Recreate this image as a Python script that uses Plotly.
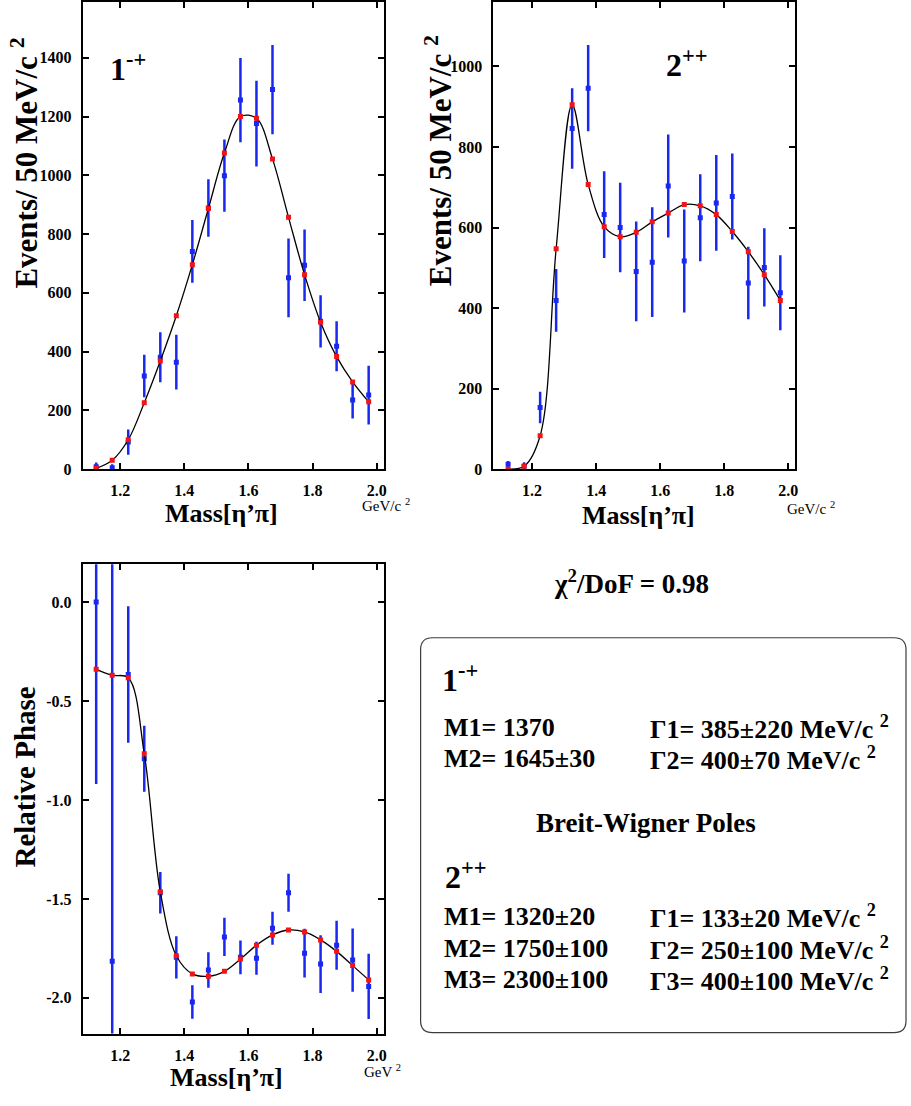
import plotly.graph_objects as go

W, H = 911, 1106

# ---------------- data ----------------
mass = [1.125, 1.175, 1.225, 1.275, 1.325, 1.375, 1.425, 1.475, 1.525,
        1.575, 1.625, 1.675, 1.725, 1.775, 1.825, 1.875, 1.925, 1.975]

# 1^-+ intensity
ex_data = [8, 5, 92, 317, 381, 364, 741, 889, 999, 1256, 1176, 1292, 651, 694, 503, 418, 235, 252]
ex_err = [15, 12, 43, 72, 85, 93, 107, 98, 123, 143, 146, 152, 134, 122, 89, 85, 63, 100]
ex_fit = [3, 30, 100, 226, 368, 522, 696, 887, 1076, 1200, 1194, 1056, 857, 662, 500, 383, 297, 229]

# 2^++ intensity
t_data = [12, 7, 153, 419, 846, 946, 632, 600, 491, 514, 703, 517, 624, 661, 677, 462, 501, 438]
t_err = [8, 10, 39, 78, 100, 107, 108, 111, 124, 136, 128, 128, 108, 119, 107, 90, 97, 93]
t_fit = [0, 7, 83, 547, 905, 707, 602, 577, 588, 614, 636, 657, 654, 632, 590, 540, 483, 419]

# relative phase
ph_data = [0.0, -1.815, -0.366, -0.792, -1.469, -1.795, -2.021, -1.859, -1.692,
           -1.795, -1.80, -1.648, -1.469, -1.774, -1.829, -1.734, -1.809, -1.942]
ph_err = [0.92, 2.2, 0.345, 0.167, 0.105, 0.107, 0.085, 0.09, 0.097,
          0.085, 0.083, 0.083, 0.096, 0.123, 0.146, 0.124, 0.16, 0.165]
ph_fit = [-0.34, -0.37, -0.383, -0.767, -1.464, -1.787, -1.879, -1.891, -1.866,
          -1.804, -1.734, -1.682, -1.657, -1.667, -1.707, -1.765, -1.837, -1.909]

x_tickvals = [1.2, 1.4, 1.6, 1.8, 2.0]
x_ticktext = ["1.2", "1.4", "1.6", "1.8", "2.0"]
ex_tickvals = [0, 200, 400, 600, 800, 1000, 1200, 1400]
t_tickvals = [0, 200, 400, 600, 800, 1000]
ph_tickvals = [0.0, -0.5, -1.0, -1.5, -2.0]
ph_ticktext = ["0.0", "-0.5", "-1.0", "-1.5", "-2.0"]

BLUE = "rgb(25,40,240)"
RED = "rgb(240,20,20)"
FONT = "'Liberation Serif', 'Times New Roman', serif"

fig = go.Figure()


def add_panel(xa, ya, data, err, fit):
    fig.add_trace(go.Scatter(
        x=mass, y=data, mode="markers", xaxis=xa, yaxis=ya,
        marker=dict(symbol="square", size=5, color=BLUE),
        error_y=dict(type="data", array=err, visible=True, color=BLUE,
                     thickness=2.5, width=0),
        showlegend=False, hoverinfo="skip"))
    fig.add_trace(go.Scatter(
        x=mass, y=fit, mode="lines", xaxis=xa, yaxis=ya,
        line=dict(color="black", width=1.3, shape="spline"),
        showlegend=False, hoverinfo="skip"))
    fig.add_trace(go.Scatter(
        x=mass, y=fit, mode="markers", xaxis=xa, yaxis=ya,
        marker=dict(symbol="square", size=5, color=RED),
        showlegend=False, hoverinfo="skip"))


add_panel("x", "y", ex_data, ex_err, ex_fit)
add_panel("x2", "y2", t_data, t_err, t_fit)
add_panel("x3", "y3", ph_data, ph_err, ph_fit)


def px(x):
    return x / W


def py(y):
    return 1 - y / H


tickfont = dict(family=FONT, size=16, color="black", weight="bold")
axis_common = dict(showgrid=False, zeroline=False, showline=True, linewidth=2,
                   linecolor="black", mirror="ticks", ticks="inside", ticklen=6,
                   tickwidth=1.5, tickcolor="black", tickfont=tickfont,
                   ticklabelstandoff=6)

fig.update_layout(
    width=W, height=H, margin=dict(l=0, r=0, t=0, b=0),
    paper_bgcolor="white", plot_bgcolor="white",
    xaxis=dict(domain=[px(83), px(385)], range=[1.083, 2.022], anchor="y",
               tickvals=x_tickvals, ticktext=x_ticktext, **axis_common),
    yaxis=dict(domain=[py(473), py(2)], range=[0, 1590], anchor="x",
               tickvals=ex_tickvals, **axis_common),
    xaxis2=dict(domain=[px(495), px(798)], range=[1.079, 2.022], anchor="y2",
                tickvals=x_tickvals, ticktext=x_ticktext, **axis_common),
    yaxis2=dict(domain=[py(473), py(2)], range=[0, 1160], anchor="x2",
                tickvals=t_tickvals, **axis_common),
    xaxis3=dict(domain=[px(83), px(385)], range=[1.083, 2.022], anchor="y3",
                tickvals=x_tickvals, ticktext=x_ticktext, **axis_common),
    yaxis3=dict(domain=[py(1042), py(569)], range=[-2.18, 0.19], anchor="x3",
                tickvals=ph_tickvals, ticktext=ph_ticktext, **axis_common),
)

annotations = []


def ann(text, x, y, size, xanchor="center", yanchor="middle", angle=0, bold=True):
    annotations.append(dict(
        text=text, x=px(x), y=py(y), xref="paper", yref="paper",
        xanchor=xanchor, yanchor=yanchor, showarrow=False, textangle=angle,
        font=dict(family=FONT, size=size, color="black",
                  weight="bold" if bold else "normal")))


# panel labels
ann("1<sup>-+</sup>", 108, 68, 32, xanchor="left")
ann("2<sup>++</sup>", 666, 64, 32, xanchor="left")

# axis titles
ann("Events/ 50 MeV/c <sup>2</sup>", 25, 164, 31, angle=-90)
ann("Events/ 50 MeV/c <sup>2</sup>", 440, 162, 31, angle=-90)
ann("Relative Phase", 25, 783, 29, angle=-90)
ann("Mass[η’π]", 222, 518, 26)
ann("Mass[η’π]", 641, 520, 26)
ann("Mass[η’π]", 227, 1086, 26)
ann("GeV/c <sup>2</sup>", 361, 509, 15, xanchor="left", bold=False)
ann("GeV/c <sup>2</sup>", 788, 512, 15, xanchor="left", bold=False)
ann("GeV <sup>2</sup>", 363, 1080, 15, xanchor="left", bold=False)

# chi2
ann("χ<sup>2</sup>/DoF = 0.98", 634, 587, 27)

# box contents
ann("1<sup>-+</sup>", 441, 684, 32, xanchor="left")
ann("M1= 1370", 443, 733, 26, xanchor="left")
ann("M2= 1645±30", 443, 765, 26, xanchor="left")
ann("Γ1= 385±220 MeV/c <sup>2</sup>", 650, 733, 26, xanchor="left")
ann("Γ2= 400±70 MeV/c <sup>2</sup>", 650, 765, 26, xanchor="left")
ann("Breit-Wigner Poles", 648, 830, 27)
ann("2<sup>++</sup>", 444, 882, 32, xanchor="left")
ann("M1= 1320±20", 443, 924, 26, xanchor="left")
ann("M2= 1750±100", 443, 956, 26, xanchor="left")
ann("M3= 2300±100", 443, 988, 26, xanchor="left")
ann("Γ1= 133±20 MeV/c <sup>2</sup>", 650, 924, 26, xanchor="left")
ann("Γ2= 250±100 MeV/c <sup>2</sup>", 650, 956, 26, xanchor="left")
ann("Γ3= 400±100 MeV/c <sup>2</sup>", 650, 988, 26, xanchor="left")

fig.update_layout(annotations=annotations)

# rounded box
x0, x1, y0, y1 = px(422), px(909), py(1041), py(643)
rx, ry = 12 / W, 12 / H
path = (f"M {x0+rx},{y1} L {x1-rx},{y1} Q {x1},{y1} {x1},{y1-ry} "
        f"L {x1},{y0+ry} Q {x1},{y0} {x1-rx},{y0} L {x0+rx},{y0} "
        f"Q {x0},{y0} {x0},{y0+ry} L {x0},{y1-ry} Q {x0},{y1} {x0+rx},{y1} Z")
fig.add_shape(type="path", path=path, xref="paper", yref="paper",
              line=dict(color="rgb(60,60,60)", width=1.2))

fig.write_html("out.html", config={"displayModeBar": False},
               post_script="document.body.style.margin='0';")
